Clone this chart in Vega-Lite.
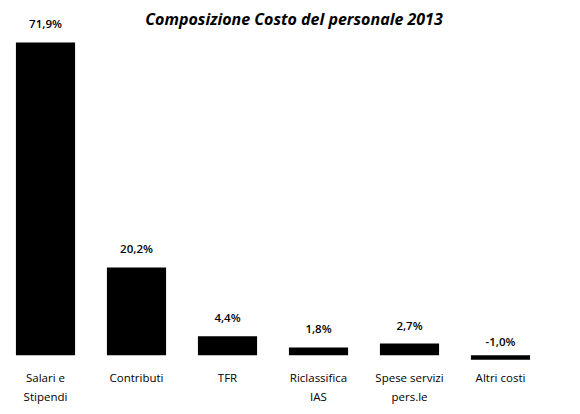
{
  "$schema": "https://vega.github.io/schema/vega-lite/v6.json",
  "width": 546,
  "height": 322,
  "autosize": "none",
  "padding": {"left": 0, "top": 42, "right": 34, "bottom": 50},
  "config": {
    "view": {"stroke": null},
    "font": "Open Sans"
  },
  "title": {
    "text": "Composizione Costo del personale 2013",
    "font": "Open Sans",
    "fontStyle": "italic",
    "fontWeight": "bold",
    "fontSize": 16,
    "color": "#000000",
    "offset": 0,
    "dy": 9,
    "dx": 21,
    "anchor": "middle"
  },
  "data": {
    "values": [
      {"voce": "Salari e\nStipendi", "valore": 71.9, "etichetta": "71,9%"},
      {"voce": "Contributi", "valore": 20.2, "etichetta": "20,2%"},
      {"voce": "TFR", "valore": 4.4, "etichetta": "4,4%"},
      {"voce": "Riclassifica\nIAS", "valore": 1.8, "etichetta": "1,8%"},
      {"voce": "Spese servizi\npers.le", "valore": 2.7, "etichetta": "2,7%"},
      {"voce": "Altri costi", "valore": -1.0, "etichetta": "-1,0%"}
    ]
  },
  "encoding": {
    "x": {
      "field": "voce", "type": "nominal", "sort": null,
      "scale": {"paddingInner": 0.35, "paddingOuter": 0.175},
      "axis": {
        "title": null, "labelAngle": 0, "domain": false, "ticks": false,
        "labelExpr": "split(datum.label, '\\n')",
        "labelFont": "Open Sans",
        "labelFontSize": 11.5, "labelFontWeight": 500, "labelLineHeight": 19, "labelPadding": 8,
        "labelColor": "#000000"
      }
    },
    "y": {"field": "valore", "type": "quantitative", "scale": {"domain": [-2, 72], "nice": false}, "axis": null}
  },
  "layer": [
    {
      "mark": {"type": "bar", "color": "#000000"}
    },
    {
      "mark": {"type": "text", "baseline": "bottom", "dy": -12, "fontSize": 11.5, "fontWeight": 600, "color": "#000000", "font": "Open Sans"},
      "encoding": {
        "text": {"field": "etichetta", "type": "nominal"}
      }
    }
  ]
}
